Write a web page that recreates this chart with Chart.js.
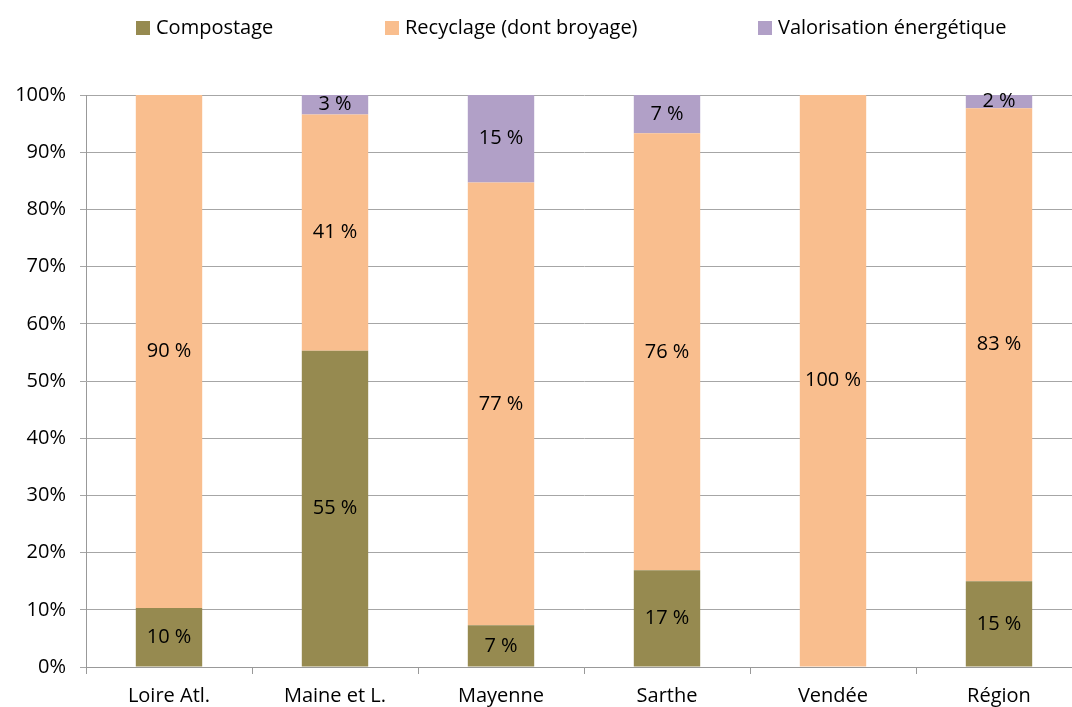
<!DOCTYPE html>
<html>
<head>
<meta charset="utf-8">
<script src="https://cdn.jsdelivr.net/npm/chart.js@4.4.1/dist/chart.umd.min.js"></script>
<style>
  html, body { margin: 0; padding: 0; background: #fff; overflow: hidden; }
  .wrap { width: 1090px; height: 707px; position: relative; }
  .legend { position: absolute; top: 0; left: 0; width: 1072px; height: 60px; font-family: 'Open Sans', sans-serif; font-size: 20px; color: #000; }
  .legend .item { position: absolute; top: 13px; line-height: 28px; white-space: nowrap; }
  .legend .box { display: inline-block; width: 14px; height: 14px; margin-right: 6px; vertical-align: -1px; }
</style>
</head>
<body>
<div class="wrap">
  <div class="legend" id="legend"></div>
  <canvas id="chart"></canvas>
</div>
<script>
// Données (parts en %)
const categories = ['Loire Atl.', 'Maine et L.', 'Mayenne', 'Sarthe', 'Vendée', 'Région'];
const compostage = [10.3, 55.3, 7.3, 16.9, 0, 15.0];
const recyclage = [89.7, 41.3, 77.4, 76.4, 100, 82.7];
const valorisation = [0, 3.4, 15.3, 6.7, 0, 2.3];
const yTicks = [0, 10, 20, 30, 40, 50, 60, 70, 80, 90, 100];

const seriesNames = ['Compostage', 'Recyclage (dont broyage)', 'Valorisation énergétique'];
const seriesColors = ['#968A50', '#F9BE8E', '#B1A0C7'];
const legendLeft = [136, 385, 758];

const FONT = "'Open Sans', sans-serif";
Chart.defaults.font.family = FONT;
Chart.defaults.color = '#000';

// Légende en HTML (espacement large comme l'original)
const legend = document.getElementById('legend');
seriesNames.forEach((name, i) => {
    const item = document.createElement('div');
    item.className = 'item';
    item.style.left = legendLeft[i] + 'px';
    item.innerHTML = '<span class="box" style="background:' + seriesColors[i] + '"></span>' + name;
    legend.appendChild(item);
});

// Étiquettes au centre des segments
const segmentLabels = {
    id: 'segmentLabels',
    afterDatasetsDraw(chart) {
        const ctx = chart.ctx;
        ctx.save();
        ctx.font = '20px ' + FONT;
        ctx.fillStyle = '#000';
        ctx.textAlign = 'center';
        ctx.textBaseline = 'middle';
        chart.data.datasets.forEach((ds, i) => {
            chart.getDatasetMeta(i).data.forEach((bar, j) => {
                const v = ds.data[j];
                if (v < 1) return;
                const mid = (bar.y + bar.base) / 2;
                ctx.fillText(Math.round(v) + ' %', bar.x, mid);
            });
        });
        ctx.restore();
    }
};

new Chart(document.getElementById('chart'), {
    type: 'bar',
    data: {
        labels: categories,
        datasets: [
            { label: seriesNames[0], data: compostage, backgroundColor: seriesColors[0] },
            { label: seriesNames[1], data: recyclage, backgroundColor: seriesColors[1] },
            { label: seriesNames[2], data: valorisation, backgroundColor: seriesColors[2] }
        ]
    },
    options: {
        responsive: true,
        maintainAspectRatio: false,
        animation: false,
        barPercentage: 0.4,
        categoryPercentage: 1.0,
        layout: { padding: { top: 95, right: 8, left: 0, bottom: -11 } },
        plugins: {
            legend: { display: false },
            tooltip: { enabled: false }
        },
        scales: {
            x: {
                stacked: true,
                grid: {
                    drawOnChartArea: false,
                    drawTicks: true,
                    tickLength: 7,
                    color: '#999'
                },
                border: { color: '#999' },
                ticks: { font: { size: 20 }, padding: 10 }
            },
            y: {
                stacked: true,
                min: 0,
                max: 100,
                afterBuildTicks: (axis) => { axis.ticks = yTicks.map(v => ({ value: v })); },
                afterFit: (axis) => { axis.width = 86; },
                grid: { color: '#a6a6a6', tickLength: 6 },
                border: { color: '#999' },
                ticks: {
                    font: { size: 20 },
                    padding: 14,
                    callback: (v) => v + '%'
                }
            }
        }
    },
    plugins: [segmentLabels]
});
</script>
</body>
</html>
